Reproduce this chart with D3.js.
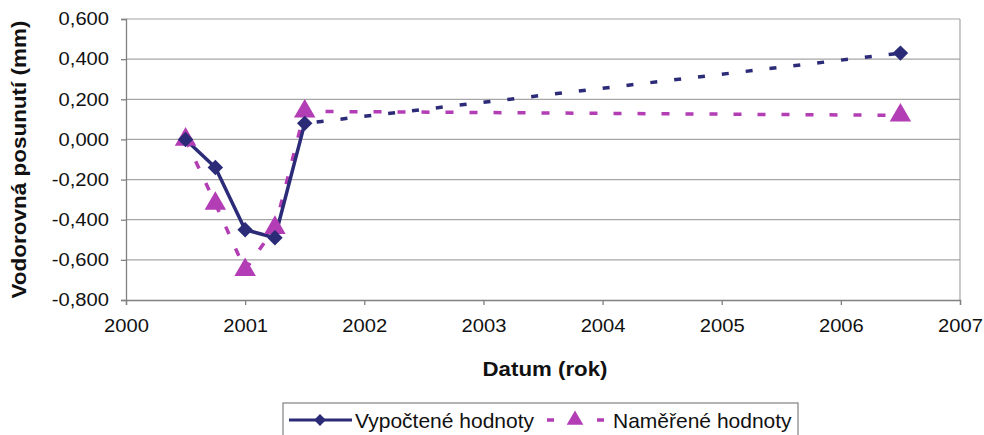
<!DOCTYPE html>
<html><head><meta charset="utf-8">
<script src="https://cdn.jsdelivr.net/npm/d3@7"></script>
<style>body{margin:0;background:#fff;} svg{display:block;font-family:"Liberation Sans",Arial,sans-serif;}</style>
</head><body>
<svg id="c" width="984" height="435"></svg>
<script>
const years = [2000.5, 2000.75, 2001.0, 2001.25, 2001.5, 2006.5];
const computed = [0.0, -0.14, -0.45, -0.49, 0.08, 0.43];
const measured = [0.0, -0.32, -0.65, -0.44, 0.14, 0.12];
const xTicks = [2000, 2001, 2002, 2003, 2004, 2005, 2006, 2007];
const yTicks = [-0.8, -0.6, -0.4, -0.2, 0, 0.2, 0.4, 0.6];
const seriesNames = ["Vypočtené hodnoty", "Naměřené hodnoty"];

const blue = "#2b2b78", pink = "#b23db4";
const svg = d3.select("#c");
const L = 126, R = 960, T = 19, B = 300;
const x = d3.scaleLinear().domain([2000, 2007]).range([L, R]);
const y = d3.scaleLinear().domain([-0.8, 0.6]).range([B, T]);
const fmt = v => d3.format(".3f")(v).replace(".", ",").replace("−","-");
function stretch(sel, k) {
  sel.each(function () {
    const w = this.getComputedTextLength();
    d3.select(this).attr("textLength", w * k).attr("lengthAdjust", "spacingAndGlyphs");
  });
}

// gridlines
svg.append("g").selectAll("line").data(yTicks.filter(v => v > -0.8)).join("line")
  .attr("x1", L).attr("x2", R).attr("y1", d => y(d)).attr("y2", d => y(d))
  .attr("stroke", "#a6a6a6").attr("stroke-width", 1.2);
// right border
svg.append("line").attr("x1", R).attr("x2", R).attr("y1", T).attr("y2", B)
  .attr("stroke", "#a6a6a6").attr("stroke-width", 1.2);

// axes
const yAxis = svg.append("g").attr("transform", `translate(${L},0)`)
  .call(d3.axisLeft(y).tickValues(yTicks).tickFormat(fmt).tickSize(5).tickPadding(12));
const xAxis = svg.append("g").attr("transform", `translate(0,${B})`)
  .call(d3.axisBottom(x).tickValues(xTicks).tickFormat(d3.format("d")).tickSize(5).tickPadding(14));
[yAxis, xAxis].forEach(a => {
  a.select(".domain").attr("stroke", "#808080").attr("stroke-width", 1.3);
  a.selectAll(".tick line").attr("stroke", "#808080").attr("stroke-width", 1.3);
  a.selectAll("text").attr("font-size", 18).attr("fill", "#111")
   .attr("font-family", "'Liberation Sans',Arial,sans-serif");
  stretch(a.selectAll("text"), 1.12);
});

// axis titles
const yt = svg.append("text").attr("transform", `translate(26,${(T+B)/2}) rotate(-90)`)
  .attr("text-anchor", "middle").attr("font-weight", "bold").attr("font-size", 21)
  .attr("fill", "#111").text("Vodorovná posunutí  (mm)");
stretch(yt, 1.07);
const xt = svg.append("text").attr("x", 545).attr("y", 376).attr("text-anchor", "middle")
  .attr("font-weight", "bold").attr("font-size", 21).attr("fill", "#111").text("Datum (rok)");
stretch(xt, 1.06);

const line = d3.line().x(d => x(d[0])).y(d => y(d[1]));
const cPts = years.map((t, i) => [t, computed[i]]);
const mPts = years.map((t, i) => [t, measured[i]]);

// measured dashed
svg.append("path").attr("d", line(mPts)).attr("fill", "none").attr("stroke", pink)
  .attr("stroke-width", 3.5).attr("stroke-dasharray", "8,16");
// computed: solid first part, dotted last segment
svg.append("path").attr("d", line(cPts.slice(0, 5))).attr("fill", "none").attr("stroke", blue)
  .attr("stroke-width", 3.5);
svg.append("path").attr("d", line(cPts.slice(4))).attr("fill", "none").attr("stroke", blue)
  .attr("stroke-width", 3.5).attr("stroke-dasharray", "7,17").attr("stroke-dashoffset", -12);

const tri = d3.symbol().type(d3.symbolTriangle).size(200);
svg.append("g").selectAll("path").data(mPts).join("path")
  .attr("d", tri).attr("transform", d => `translate(${x(d[0])},${y(d[1])})`).attr("fill", pink);
svg.append("g").selectAll("path").data(cPts).join("path")
  .attr("d", d3.symbol().type(d3.symbolSquare).size(120))
  .attr("transform", d => `translate(${x(d[0])},${y(d[1])}) rotate(45)`).attr("fill", blue);

// legend
const lg = svg.append("g");
lg.append("rect").attr("x", 283).attr("y", 403).attr("width", 515).attr("height", 40)
  .attr("fill", "#fff").attr("stroke", "#808080").attr("stroke-width", 1.2);
const ly = 420;
lg.append("line").attr("x1", 289).attr("x2", 352).attr("y1", ly).attr("y2", ly)
  .attr("stroke", blue).attr("stroke-width", 3);
lg.append("path").attr("d", d3.symbol().type(d3.symbolSquare).size(70)())
  .attr("transform", `translate(320,${ly}) rotate(45)`).attr("fill", blue);
lg.append("text").attr("x", 355).attr("y", ly + 8).attr("font-size", 21).attr("fill", "#111")
  .text(seriesNames[0]);
lg.append("line").attr("x1", 547).attr("x2", 604).attr("y1", ly).attr("y2", ly)
  .attr("stroke", pink).attr("stroke-width", 3.5).attr("stroke-dasharray", "7,43");
lg.append("path").attr("d", d3.symbol().type(d3.symbolTriangle).size(120)())
  .attr("transform", `translate(575,${ly})`).attr("fill", pink);
lg.append("text").attr("x", 613).attr("y", ly + 8).attr("font-size", 21).attr("fill", "#111")
  .text(seriesNames[1]);
</script>
</body></html>
